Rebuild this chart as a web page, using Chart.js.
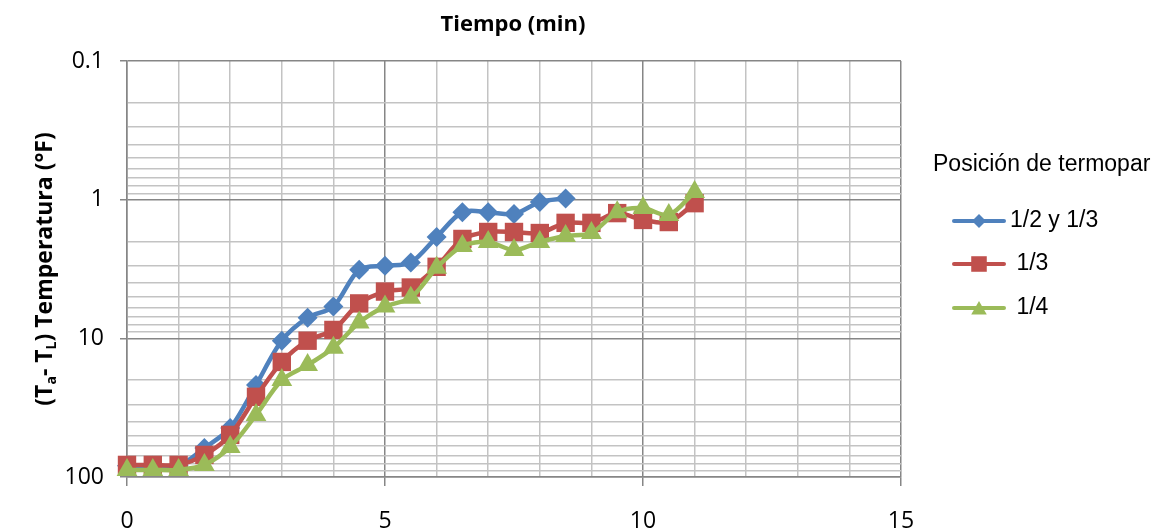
<!DOCTYPE html>
<html>
<head>
<meta charset="utf-8">
<script src="https://cdn.jsdelivr.net/npm/chart.js@4.4.0/dist/chart.umd.min.js"></script>
<style>
  body { margin: 0; background: #fff; }
  #wrap { width: 1165px; height: 531px; position: relative; }
</style>
</head>
<body>
<div id="wrap"><canvas id="perfilChart"></canvas></div>
<script>
// tiempo (min) en pasos de medio minuto
const tiempo = [0, 0.5, 1, 1.5, 2, 2.5, 3, 3.5, 4, 4.5, 5, 5.5, 6, 6.5, 7, 7.5, 8, 8.5, 9, 9.5, 10, 10.5, 11];

// (Ta - TL) por posición del termopar
const termopar12y13 = [83, 83, 83, 61.7, 44.3, 21.7, 10.4, 7.1, 5.9, 3.2, 3.0, 2.84, 1.86, 1.23, 1.23, 1.27, 1.04, 0.98];
const termopar13 = [81.8, 81.8, 81.8, 69.3, 49.7, 26.4, 14.8, 10.4, 8.7, 5.6, 4.6, 4.3, 3.05, 1.92, 1.71, 1.71, 1.74, 1.47, 1.47, 1.25, 1.4, 1.45, 1.06];
const termopar14 = [88.9, 88.9, 88.9, 81.8, 60.7, 35.7, 20.0, 15.6, 11.7, 7.7, 5.9, 5.1, 3.1, 2.16, 2.02, 2.31, 2.02, 1.83, 1.74, 1.23, 1.15, 1.29, 0.88];

const nombresSerie = ["1/2 y 1/3", " 1/3", " 1/4"];
const xTickLabels = [0, 5, 10, 15];
const yTickLabels = [0.1, 1, 10, 100];

const AZUL = "#4F81BD";
const ROJO = "#C0504D";
const VERDE = "#9BBB59";
const GRID_MAYOR = "#868686";
const GRID_MENOR = "#C3C3C3";

function puntos(valores) {
    return valores.map((v, i) => ({ x: tiempo[i], y: v }));
}

// marcas de la escala log: 1..9 por década
const yTicks = [];
for (let d = 0; d < yTickLabels.length - 1; d++) {
    for (let k = 1; k <= 9; k++) {
        yTicks.push({ value: k * yTickLabels[d] });
    }
}
yTicks.push({ value: yTickLabels[yTickLabels.length - 1] });

const fuenteEjes = "'Open Sans', 'Noto Sans', sans-serif";

// títulos y leyenda dibujados a mano
const titulosPlugin = {
    id: "titulos",
    afterDraw(chart) {
        const ctx = chart.ctx;
        const area = chart.chartArea;
        ctx.save();
        ctx.fillStyle = "#000";

        // título superior
        ctx.font = "bold 22px " + fuenteEjes;
        ctx.textAlign = "center";
        ctx.textBaseline = "middle";
        ctx.fillText("Tiempo (min)", 513, 25);

        // título eje y con subíndices
        const partes = [
            { t: "(T", sub: false },
            { t: "a", sub: true },
            { t: "- T", sub: false },
            { t: "L", sub: true },
            { t: ") Temperatura (°F)", sub: false },
        ];
        const fNormal = "bold 23px " + fuenteEjes;
        const fSub = "bold 14px " + fuenteEjes;
        let total = 0;
        partes.forEach((p) => {
            ctx.font = p.sub ? fSub : fNormal;
            p.w = ctx.measureText(p.t).width;
            total += p.w;
        });
        ctx.translate(44, (area.top + area.bottom) / 2);
        ctx.rotate(-Math.PI / 2);
        ctx.textAlign = "left";
        ctx.textBaseline = "alphabetic";
        let x = -total / 2;
        partes.forEach((p) => {
            ctx.font = p.sub ? fSub : fNormal;
            ctx.fillText(p.t, x, p.sub ? 12 : 8);
            x += p.w;
        });
        ctx.restore();

        // leyenda
        ctx.save();
        ctx.font = "23px 'Liberation Sans', Arial, sans-serif";
        ctx.fillStyle = "#000";
        ctx.textBaseline = "middle";
        ctx.textAlign = "left";
        ctx.fillText("Posición de termopar", 933, 165);
        const filas = [221, 264, 308];
        [0, 1, 2].forEach((idx, i) => {
            const ds = chart.data.datasets[idx];
            const y = filas[i];
            ctx.strokeStyle = ds.borderColor;
            ctx.lineWidth = 4;
            ctx.lineCap = "round";
            ctx.beginPath();
            ctx.moveTo(954, y);
            ctx.lineTo(1004, y);
            ctx.stroke();
            ctx.fillStyle = ds.backgroundColor;
            Chart.helpers.drawPoint(ctx, {
                pointStyle: ds.pointStyle,
                rotation: 0,
                radius: ds.legendRadius,
                borderWidth: 0,
            }, 979, y + (ds.pointStyle === "triangle" ? 2 : 0));
            ctx.fillStyle = "#000";
            ctx.fillText(ds.label, 1010, y);
        });
        ctx.restore();
    },
};

const config = {
    type: "line",
    data: {
        datasets: [
            {
                label: nombresSerie[0],
                data: puntos(termopar12y13),
                borderColor: AZUL,
                backgroundColor: AZUL,
                pointStyle: "rectRot",
                pointRadius: 10,
                legendRadius: 7,
                order: 3,
            },
            {
                label: nombresSerie[1],
                data: puntos(termopar13),
                borderColor: ROJO,
                backgroundColor: ROJO,
                pointStyle: "rect",
                pointRadius: 13,
                legendRadius: 11,
                order: 2,
            },
            {
                label: nombresSerie[2],
                data: puntos(termopar14),
                borderColor: VERDE,
                backgroundColor: VERDE,
                pointStyle: "triangle",
                pointRadius: 12,
                legendRadius: 9,
                order: 1,
            },
        ],
    },
    options: {
        responsive: true,
        maintainAspectRatio: false,
        animation: false,
        clip: false,
        layout: {
            padding: { top: 61, right: 264, left: 0, bottom: 0 },
        },
        elements: {
            line: { borderWidth: 4.5, tension: 0.3, fill: false },
            point: { borderWidth: 0, hoverRadius: 12 },
        },
        plugins: {
            legend: { display: false },
            tooltip: { enabled: false },
        },
        scales: {
            x: {
                type: "linear",
                min: 0,
                max: 15,
                afterFit(scale) { scale.height = 54; },
                ticks: {
                    stepSize: 1,
                    autoSkip: false,
                    maxRotation: 0,
                    padding: 22,
                    color: "#000",
                    font: { family: fuenteEjes, size: 23 },
                    callback: (v) => (xTickLabels.includes(v) ? String(v) : ""),
                },
                grid: {
                    color: (c) => (c.tick && c.tick.value % 5 === 0 ? GRID_MAYOR : GRID_MENOR),
                    lineWidth: 1.5,
                    tickLength: 9,
                    tickColor: (c) => (c.tick && c.tick.value % 5 === 0 ? GRID_MAYOR : "transparent"),
                },
                border: { color: GRID_MAYOR, width: 1.5 },
            },
            y: {
                type: "logarithmic",
                reverse: true,
                min: 0.1,
                max: 100,
                afterFit(scale) { scale.width = 127; },
                afterBuildTicks(scale) { scale.ticks = yTicks.map((t) => ({ value: t.value })); },
                ticks: {
                    autoSkip: false,
                    padding: 16,
                    color: "#000",
                    font: { family: fuenteEjes, size: 23 },
                    callback: (v) => (yTickLabels.includes(v) ? String(v) : ""),
                },
                grid: {
                    color: (c) => (c.tick && yTickLabels.includes(c.tick.value) ? GRID_MAYOR : GRID_MENOR),
                    lineWidth: 1.5,
                    tickLength: 7,
                    tickColor: (c) => (c.tick && yTickLabels.includes(c.tick.value) ? GRID_MAYOR : "transparent"),
                },
                border: { color: GRID_MAYOR, width: 1.5 },
            },
        },
    },
    plugins: [titulosPlugin],
};

const perfilChart = new Chart(document.getElementById("perfilChart"), config);
</script>
</body>
</html>
